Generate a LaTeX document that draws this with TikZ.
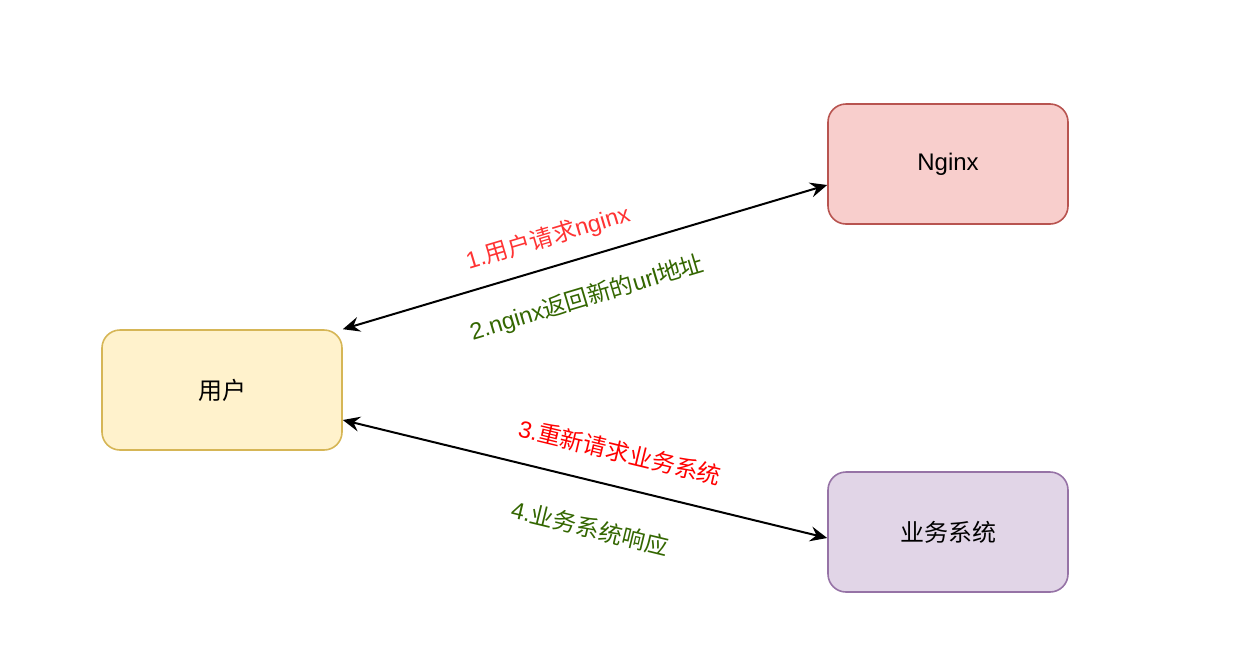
\documentclass[tikz,border=0pt]{standalone}
\usepackage{fontspec}
\setmainfont{Liberation Sans}
\newfontfamily\cjk{Noto Sans CJK SC}
\usetikzlibrary{arrows.meta}
\definecolor{userfill}{HTML}{FFF2CC}
\definecolor{userline}{HTML}{D6B656}
\definecolor{nginxfill}{HTML}{F8CECC}
\definecolor{nginxline}{HTML}{B85450}
\definecolor{bizfill}{HTML}{E1D5E7}
\definecolor{bizline}{HTML}{9673A6}
\definecolor{askred}{HTML}{FF3333}
\definecolor{replygreen}{HTML}{336600}
\tikzset{
  box/.style={draw, line width=1.6pt, rounded corners=18pt, minimum width=240pt,
    minimum height=120pt, font=\fontsize{24}{28}\selectfont},
  flow/.style={line width=2pt, {Stealth[length=17pt,width=15pt,inset=6pt]}-{Stealth[length=17pt,width=15pt,inset=6pt]}},
  note/.style={font=\fontsize{23.5}{28}\selectfont, inner sep=0pt}
}
\begin{document}
\begin{tikzpicture}[x=1pt,y=-1pt]
  \useasboundingbox (0,0) rectangle (1255,670);

  % Boxes
  \node[box, fill=userfill, draw=userline] (user) at (222,390) {\cjk 用户};
  \node[box, fill=nginxfill, draw=nginxline] (nginx) at (948,164) {Nginx};
  \node[box, fill=bizfill, draw=bizline] (biz) at (948,532) {\cjk 业务系统};

  % Arrows
  \draw[flow] (user.north east) -- ([yshift=-21pt]nginx.west);
  \draw[flow] ([yshift=-30pt]user.east) -- ([yshift=-6pt]biz.west);

  % Labels
  \node[note, text=askred, rotate=16.7] (ask1) at (548,238) {1.{\cjk 用户请求}nginx};
  \node[note, text=replygreen, rotate=16.7] (reply1) at (587,298) {2.nginx{\cjk 返回新的}url{\cjk 地址}};
  \node[note, text=red, rotate=-13.6] (ask2) at (620,452) {3.{\cjk 重新请求业务系统}};
  \node[note, text=replygreen, rotate=-13.6] (reply2) at (590,528) {4.{\cjk 业务系统响应}};

\end{tikzpicture}
\end{document}
